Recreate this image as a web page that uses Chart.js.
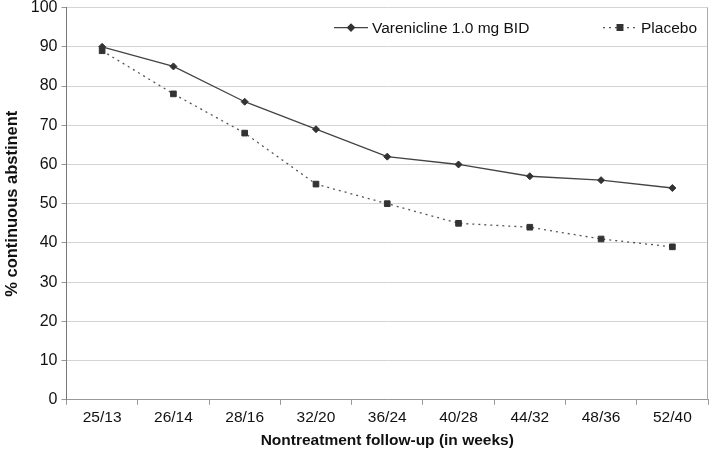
<!DOCTYPE html>
<html>
<head>
<meta charset="utf-8">
<script src="https://cdn.jsdelivr.net/npm/chart.js@4"></script>
<style>
  html, body { margin: 0; padding: 0; background: #fff; }
  #wrap { width: 713px; height: 457px; }
</style>
</head>
<body>
<div id="wrap"><canvas id="chart" width="713" height="457"></canvas></div>
<script>
// Chart data
const categories = ['25/13', '26/14', '28/16', '32/20', '36/24', '40/28', '44/32', '48/36', '52/40'];
const vareniclineValues = [90, 85, 76, 69, 62, 60, 57, 56, 54];
const placeboValues = [89, 78, 68, 55, 50, 45, 44, 41, 39];
const seriesLabels = ['Varenicline 1.0 mg BID', 'Placebo'];

const FONT = "'Liberation Sans', Arial, sans-serif";

// legend drawn inside the plot area, top right
const insideLegend = {
    id: 'insideLegend',
    afterDraw(chart) {
        const ctx = chart.ctx;
        const area = chart.chartArea;
        const y = area.top + 20;
        const items = [
            { x: 334, ds: chart.data.datasets[0] },
            { x: 603, ds: chart.data.datasets[1] }
        ];
        ctx.save();
        ctx.font = '15.5px ' + FONT;
        ctx.textBaseline = 'middle';
        items.forEach(it => {
            const ds = it.ds;
            ctx.strokeStyle = ds.borderColor;
            ctx.lineWidth = ds.borderWidth;
            ctx.setLineDash(ds.borderDash || []);
            ctx.beginPath();
            ctx.moveTo(it.x, y);
            ctx.lineTo(it.x + 34, y);
            ctx.stroke();
            ctx.setLineDash([]);
            ctx.fillStyle = '#333';
            ctx.strokeStyle = '#333';
            Chart.helpers.drawPoint(ctx, {
                pointStyle: ds.pointStyle,
                radius: ds.pointRadius,
                rotation: 0,
                borderWidth: 1
            }, it.x + 17, y);
            ctx.fillStyle = '#111';
            ctx.fillText(ds.label, it.x + 38, y + 1);
        });
        ctx.restore();
    }
};

const ctx = document.getElementById('chart').getContext('2d');

new Chart(ctx, {
    type: 'line',
    data: {
        labels: categories,
        datasets: [
            {
                label: seriesLabels[0],
                data: vareniclineValues,
                borderColor: '#444',
                borderWidth: 1.3,
                pointStyle: 'rectRot',
                pointRadius: 3.5,
                pointBackgroundColor: '#333',
                pointBorderColor: '#333',
                pointBorderWidth: 1,
                tension: 0
            },
            {
                label: seriesLabels[1],
                data: placeboValues,
                borderColor: '#555',
                borderWidth: 1.3,
                borderDash: [2, 4],
                pointStyle: 'rect',
                pointRadius: 4,
                pointBackgroundColor: '#333',
                pointBorderColor: '#333',
                pointBorderWidth: 1,
                tension: 0
            }
        ]
    },
    options: {
        responsive: false,
        animation: false,
        layout: { padding: { top: 0, right: 1, left: 3, bottom: 7 } },
        plugins: {
            legend: { display: false },
            tooltip: { enabled: false }
        },
        scales: {
            x: {
                offset: true,
                grid: {
                    offset: true,
                    drawOnChartArea: false,
                    drawTicks: true,
                    tickLength: 5,
                    color: '#999'
                },
                border: { color: '#999', width: 1 },
                ticks: {
                    color: '#111',
                    padding: 4,
                    font: { family: FONT, size: 15.5 },
                    maxRotation: 0
                },
                title: {
                    display: true,
                    text: 'Nontreatment follow-up (in weeks)',
                    color: '#111',
                    font: { family: FONT, size: 15.5, weight: 'bold' },
                    padding: { top: 0, bottom: 0 }
                }
            },
            y: {
                min: 0,
                max: 100,
                grid: {
                    color: '#d4d4d4',
                    tickLength: 5,
                    tickColor: '#999'
                },
                border: { color: '#777', width: 1 },
                ticks: {
                    stepSize: 10,
                    color: '#111',
                    padding: 4,
                    font: { family: FONT, size: 16, lineHeight: 0.45 }
                },
                title: {
                    display: true,
                    text: '% continuous abstinent',
                    color: '#111',
                    font: { family: FONT, size: 16.5, weight: 'bold' },
                    padding: { top: 0, bottom: 4 }
                }
            }
        }
    },
    plugins: [insideLegend, {
        id: 'rightBorder',
        afterDraw(chart) {
            const c = chart.ctx, a = chart.chartArea;
            c.save();
            c.strokeStyle = '#aaa';
            c.lineWidth = 1;
            c.beginPath();
            c.moveTo(a.right - 0.5, a.top);
            c.lineTo(a.right - 0.5, a.bottom);
            c.stroke();
            c.restore();
        }
    }]
});
</script>
</body>
</html>
